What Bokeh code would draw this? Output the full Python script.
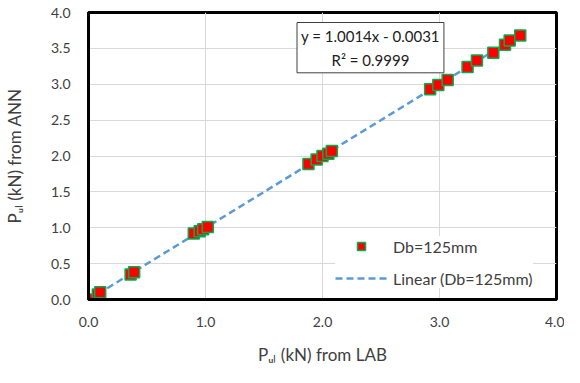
from bokeh.plotting import figure
from bokeh.models import (Range1d, FixedTicker, PrintfTickFormatter, Label,
                          Legend, LegendItem)
from bokeh.embed import file_html
from bokeh.resources import INLINE

# ---------------- data ----------------
p_lab = [0.00, 0.08, 0.10, 0.36, 0.39, 0.90, 0.95, 0.98, 1.02,
         1.88, 1.95, 2.00, 2.05, 2.08,
         2.92, 2.99, 3.07, 3.24, 3.32, 3.46, 3.56, 3.60, 3.69]
p_ann = [0.00, 0.07, 0.10, 0.35, 0.38, 0.92, 0.95, 0.98, 1.01,
         1.89, 1.95, 2.00, 2.03, 2.07,
         2.93, 2.99, 3.06, 3.24, 3.33, 3.44, 3.55, 3.61, 3.68]
slope = 1.0014
intercept = -0.0031
r2 = 0.9999
x_ticks = [0, 1, 2, 3, 4]
y_ticks = [0, 0.5, 1, 1.5, 2, 2.5, 3, 3.5, 4]
series_name = "Db=125mm"
trend_name = "Linear (Db=125mm)"
x_title = "P\u1d64\u2097 (kN) from LAB"
y_title = "P\u1d64\u2097 (kN) from ANN"

FONT = "Lato"
TXT = "#404040"

W, H = 564, 367
BL, BR, BT, BB = 88, 8, 12, 60

p = figure(width=W, height=H, x_range=Range1d(0, 4), y_range=Range1d(0, 4),
           output_backend="svg", toolbar_location=None,
           min_border_left=BL, min_border_right=BR,
           min_border_top=BT, min_border_bottom=BB)
p.outline_line_color = "black"
p.outline_line_width = 3
p.background_fill_color = "white"
p.border_fill_color = "white"

for ax in (p.xaxis[0], p.yaxis[0]):
    ax.axis_line_color = "black"
    ax.axis_line_width = 3
    ax.major_tick_line_color = None
    ax.minor_tick_line_color = None
    ax.major_label_text_font = FONT
    ax.major_label_text_font_size = "14px"
    ax.major_label_text_color = TXT
    ax.formatter = PrintfTickFormatter(format="%.1f")
    ax.axis_label_text_font = FONT
    ax.axis_label_text_font_size = "17px"
    ax.axis_label_text_font_style = "normal"
    ax.axis_label_text_color = TXT
p.xaxis[0].ticker = FixedTicker(ticks=x_ticks)
p.yaxis[0].ticker = FixedTicker(ticks=y_ticks)
p.xaxis[0].major_label_standoff = 11
p.yaxis[0].major_label_standoff = 12
p.xaxis[0].axis_label = x_title
p.yaxis[0].axis_label = y_title
p.xaxis[0].axis_label_standoff = 14
p.yaxis[0].axis_label_standoff = 23

p.xgrid[0].ticker = FixedTicker(ticks=x_ticks)
p.ygrid[0].ticker = FixedTicker(ticks=y_ticks)
p.xgrid.grid_line_color = "#D9D9D9"
p.ygrid.grid_line_color = "#D9D9D9"
p.xgrid.grid_line_width = 1
p.ygrid.grid_line_width = 1

# trend line
tx = [min(p_lab), max(p_lab)]
ty = [slope * v + intercept for v in tx]
r_line = p.line(tx, ty, line_color="#5B9BD5", line_width=2.5, line_dash="7 4")

# points
r_pts = p.scatter(p_lab, p_ann, marker="square", size=11,
                  fill_color="#FF0000", line_color="#00B050", line_width=1.5)

# equation box
eq = Label(x=2.41, y=3.51,
           text=f"y = {slope:.4f}x - {abs(intercept):.4f}\nR\u00b2 = {r2:.4f}",
           text_align="center", text_baseline="middle",
           text_font=FONT, text_font_size="15px", text_color="#202020",
           text_line_height=1.35,
           border_line_color="#404040", border_line_width=1,
           background_fill_color="white", padding=4)
p.add_layout(eq)

# legend
legend = Legend(items=[LegendItem(label=series_name, renderers=[r_pts]),
                       LegendItem(label=trend_name, renderers=[r_line])],
                location=(247, 11), orientation="vertical")
legend.background_fill_color = "white"
legend.background_fill_alpha = 1.0
legend.border_line_color = None
legend.label_text_font = FONT
legend.label_text_font_size = "16px"
legend.label_text_color = TXT
legend.glyph_width = 52
legend.glyph_height = 20
legend.label_height = 20
legend.label_standoff = 6
legend.spacing = 12
legend.padding = 7
legend.margin = 0
p.add_layout(legend, "center")

open("out.html", "w").write(file_html(p, INLINE))
